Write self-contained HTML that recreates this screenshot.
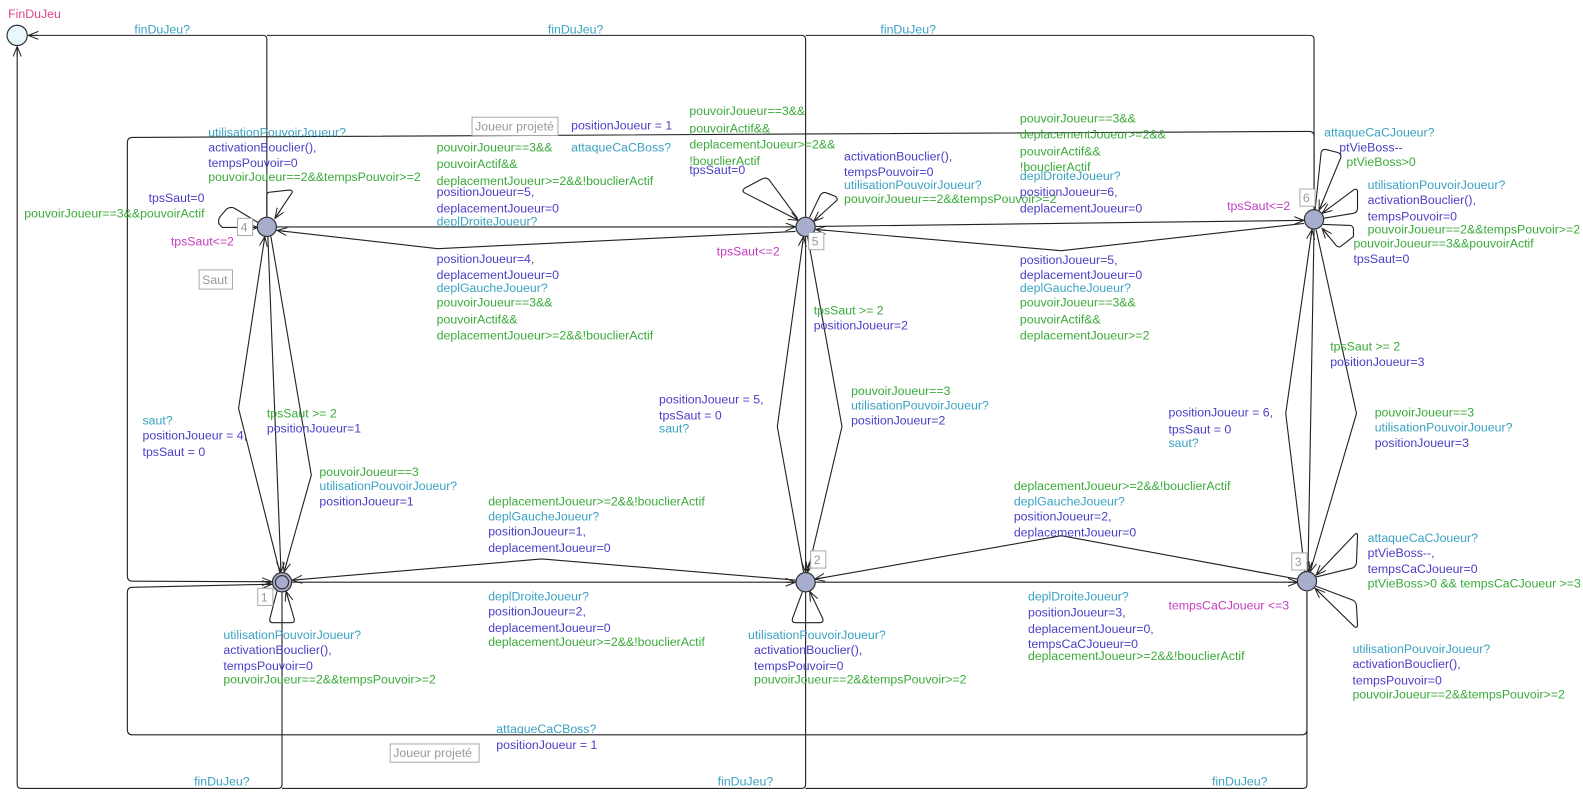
<!DOCTYPE html>
<html><head><meta charset="utf-8"><style>
html,body{margin:0;padding:0;background:#fff;}
svg{display:block;}
text{font-family:"Liberation Sans",sans-serif;font-size:12.2px;}
.g{fill:#3aaa3a}.s{fill:#3aa2c2}.u{fill:#4a3ec6}.i{fill:#c23cc0}.n{fill:#e0468c}.c{fill:#999}
.e{fill:none;stroke:#222;stroke-width:1.1;stroke-linejoin:round}
</style></head><body>
<svg width="1583" height="807" viewBox="0 0 1583 807" xmlns="http://www.w3.org/2000/svg">
<defs><marker id="a" markerWidth="12" markerHeight="10" refX="10" refY="4" orient="auto" markerUnits="userSpaceOnUse"><path d="M0,0 L10,4 L0,8 M0,4 L10,4" fill="none" stroke="#222" stroke-width="1"/></marker></defs>
<g transform="scale(1.0108)">
<path class="e" d="M797,215 L797,39 Q797,35 793,35 L264,35"/>
<path class="e" d="M1300,208 L1300,39 Q1300,35 1296,35 L797,35"/>
<path class="e" d="M264,215 L264,39 Q264,35 260,35 L28,35" marker-end="url(#a)"/>
<path class="e" d="M797,585 L797,776 Q797,780 793,780 L279,780"/>
<path class="e" d="M1293,585 L1293,776 Q1293,780 1289,780 L797,780"/>
<path class="e" d="M279,585 L279,776 Q279,780 275,780 L21,780 Q17,780 17,776 L17,46" marker-end="url(#a)"/>
<path class="e" d="M1300,208 L1300,135 Q1300,130 1295,130 L131,136 Q126,136 126,141 L126,570 Q126,575 131,575 L269,575.5" marker-end="url(#a)"/>
<path class="e" d="M1293,585 L1293,722 Q1293,727 1288,727 L131,727 Q126,727 126,722 L126,586 Q126,581 131,581 L269,578" marker-end="url(#a)"/>
<path class="e" d="M274,224.5 L787,224.5" marker-end="url(#a)"/>
<path class="e" d="M787,229 L433,246 L274,228" marker-end="url(#a)"/>
<path class="e" d="M807,224 L1290,218" marker-end="url(#a)"/>
<path class="e" d="M1290,221 L1050,248 L807,227" marker-end="url(#a)"/>
<path class="e" d="M788,574 L536,553 L289,574" marker-end="url(#a)"/>
<path class="e" d="M289,576 L787,576" marker-end="url(#a)"/>
<path class="e" d="M1284,573 L1050,530 L806,573" marker-end="url(#a)"/>
<path class="e" d="M806,576 L1284,576" marker-end="url(#a)"/>
<path class="e" d="M277,567 L236,404 L262,234" marker-end="url(#a)"/>
<path class="e" d="M265,234 L278,566" marker-end="url(#a)"/>
<path class="e" d="M268,234 L308,470 L281,566" marker-end="url(#a)"/>
<path class="e" d="M795,566 L769,422 L795,234" marker-end="url(#a)"/>
<path class="e" d="M797,234 L797,566" marker-end="url(#a)"/>
<path class="e" d="M799,234 L833,422 L799,566" marker-end="url(#a)"/>
<path class="e" d="M1291,566 L1272,409 L1298,227" marker-end="url(#a)"/>
<path class="e" d="M1300,227 L1294,566" marker-end="url(#a)"/>
<path class="e" d="M1302,227 L1342,409 L1296,566" marker-end="url(#a)"/>
<path class="e" d="M264,215 L264,193 Q264,190 268,190 L286,188 Q291,188 288,192 L272,216" marker-end="url(#a)"/>
<path class="e" d="M255,220 L232,206 Q228,204 224,207 L218,214 Q215,218 217,222 L220,225 L255,225" marker-end="url(#a)"/>
<path class="e" d="M789,216 L761,178 Q758,175 754,177 L737,186 Q733,189 737,191 L790,218" marker-end="url(#a)"/>
<path class="e" d="M801,215 L811,194 Q814,189 818,191 L826,194 Q830,197 827,199 L805,219" marker-end="url(#a)"/>
<path class="e" d="M1301,208 L1307,151 Q1308,147 1312,148 L1324,151 Q1328,153 1326,157 L1305,208" marker-end="url(#a)"/>
<path class="e" d="M1309,216 L1339,211 Q1343,210 1343,206 L1343,190 Q1343,186 1339,188 L1308,211" marker-end="url(#a)"/>
<path class="e" d="M1309,222 L1336,223 Q1339,224 1339,227 L1339,234 L1326,244 Q1324,245 1322,243 L1308,226" marker-end="url(#a)"/>
<path class="e" d="M1301,571 L1338,562 Q1342,560 1342,556 L1343,530 Q1343,526 1340,529 L1302,569" marker-end="url(#a)"/>
<path class="e" d="M1302,580 L1339,594 Q1342,596 1342,600 L1343,618 Q1343,622 1340,620 L1301,582" marker-end="url(#a)"/>
<path class="e" d="M274,585 L267,612 Q266,616 270,616 L288,616 Q292,616 291,612 L283,585" marker-end="url(#a)"/>
<path class="e" d="M794,585 L784,612 Q783,616 787,616 L811,616 Q815,616 814,612 L801,585" marker-end="url(#a)"/>
<circle cx="17" cy="35" r="10" fill="#e8f8fc" stroke="#333" stroke-width="1.2"/>
<g fill="#a7aecd" stroke="#333" stroke-width="1.2">
<circle cx="264" cy="224.5" r="9.5"/><circle cx="797" cy="224.5" r="9.5"/><circle cx="1300" cy="217" r="9.5"/>
<circle cx="279" cy="576" r="9.5"/><circle cx="797" cy="576" r="9.5"/><circle cx="1293" cy="575" r="9.5"/>
<circle cx="279" cy="576" r="6.5"/>
</g>
<g fill="#fff" stroke="#aaa" stroke-width="1">
<rect x="235" y="216" width="15" height="17"/><rect x="800" y="230" width="15" height="17"/><rect x="1286" y="187" width="15" height="17"/>
<rect x="255" y="582" width="15" height="17"/><rect x="802" y="545" width="15" height="17"/><rect x="1278" y="547" width="15" height="17"/>
<rect x="467" y="116" width="85" height="18"/><rect x="197" y="267" width="33" height="19"/><rect x="386" y="736" width="88" height="18"/>
</g>
<g class="c">
<text x="238" y="229">4</text><text x="803" y="243">5</text><text x="1289" y="200">6</text>
<text x="258" y="595">1</text><text x="805" y="558">2</text><text x="1281" y="560">3</text>
<text x="470" y="129">Joueur projeté</text><text x="200" y="281">Saut</text><text x="389" y="749">Joueur projeté</text>
</g>
<text class="n" x="8" y="18">FinDuJeu</text>
<g class="s"><text x="133" y="33">finDuJeu?</text><text x="542" y="33">finDuJeu?</text><text x="871" y="33">finDuJeu?</text>
<text x="192" y="777">finDuJeu?</text><text x="710" y="777">finDuJeu?</text><text x="1199" y="777">finDuJeu?</text></g>
<text class="s" x="206" y="135">utilisationPouvoirJoueur?</text>
<text class="u" x="206" y="150">activationBouclier(),</text>
<text class="u" x="206" y="165">tempsPouvoir=0</text>
<text class="g" x="206" y="179">pouvoirJoueur==2&amp;&amp;tempsPouvoir&gt;=2</text>
<text class="u" x="147" y="200">tpsSaut=0</text>
<text class="g" x="24" y="215">pouvoirJoueur==3&amp;&amp;pouvoirActif</text>
<text class="i" x="169" y="243">tpsSaut&lt;=2</text>
<text class="u" x="565" y="128">positionJoueur = 1</text>
<text class="s" x="565" y="150">attaqueCaCBoss?</text>
<text class="g" x="432" y="150">pouvoirJoueur==3&amp;&amp;</text>
<text class="g" x="432" y="166">pouvoirActif&amp;&amp;</text>
<text class="g" x="432" y="183">deplacementJoueur&gt;=2&amp;&amp;!bouclierActif</text>
<text class="u" x="432" y="194">positionJoueur=5,</text>
<text class="u" x="432" y="210">deplacementJoueur=0</text>
<text class="s" x="432" y="223">deplDroiteJoueur?</text>
<text class="u" x="432" y="260">positionJoueur=4,</text>
<text class="u" x="432" y="276">deplacementJoueur=0</text>
<text class="s" x="432" y="289">deplGaucheJoueur?</text>
<text class="g" x="432" y="303">pouvoirJoueur==3&amp;&amp;</text>
<text class="g" x="432" y="320">pouvoirActif&amp;&amp;</text>
<text class="g" x="432" y="336">deplacementJoueur&gt;=2&amp;&amp;!bouclierActif</text>
<text class="g" x="682" y="114">pouvoirJoueur==3&amp;&amp;</text>
<text class="g" x="682" y="131">pouvoirActif&amp;&amp;</text>
<text class="g" x="682" y="147">deplacementJoueur&gt;=2&amp;&amp;</text>
<text class="g" x="682" y="163">!bouclierActif</text>
<text class="u" x="682" y="172">tpsSaut=0</text>
<text class="u" x="835" y="159">activationBouclier(),</text>
<text class="u" x="835" y="174">tempsPouvoir=0</text>
<text class="s" x="835" y="187">utilisationPouvoirJoueur?</text>
<text class="g" x="835" y="201">pouvoirJoueur==2&amp;&amp;tempsPouvoir&gt;=2</text>
<text class="i" x="709" y="253">tpsSaut&lt;=2</text>
<text class="g" x="1009" y="121">pouvoirJoueur==3&amp;&amp;</text>
<text class="g" x="1009" y="137">deplacementJoueur&gt;=2&amp;&amp;</text>
<text class="g" x="1009" y="154">pouvoirActif&amp;&amp;</text>
<text class="g" x="1009" y="169">!bouclierActif</text>
<text class="s" x="1009" y="178">deplDroiteJoueur?</text>
<text class="u" x="1009" y="194">positionJoueur=6,</text>
<text class="u" x="1009" y="210">deplacementJoueur=0</text>
<text class="i" x="1214" y="208">tpsSaut&lt;=2</text>
<text class="u" x="1009" y="261">positionJoueur=5,</text>
<text class="u" x="1009" y="276">deplacementJoueur=0</text>
<text class="s" x="1009" y="289">deplGaucheJoueur?</text>
<text class="g" x="1009" y="303">pouvoirJoueur==3&amp;&amp;</text>
<text class="g" x="1009" y="320">pouvoirActif&amp;&amp;</text>
<text class="g" x="1009" y="336">deplacementJoueur&gt;=2</text>
<text class="s" x="1310" y="135">attaqueCaCJoueur?</text>
<text class="u" x="1325" y="150">ptVieBoss--</text>
<text class="g" x="1332" y="164">ptVieBoss&gt;0</text>
<text class="s" x="1353" y="187">utilisationPouvoirJoueur?</text>
<text class="u" x="1353" y="202">activationBouclier(),</text>
<text class="u" x="1353" y="218">tempsPouvoir=0</text>
<text class="g" x="1353" y="231">pouvoirJoueur==2&amp;&amp;tempsPouvoir&gt;=2</text>
<text class="g" x="1339" y="245">pouvoirJoueur==3&amp;&amp;pouvoirActif</text>
<text class="u" x="1339" y="260">tpsSaut=0</text>
<text class="s" x="141" y="420">saut?</text>
<text class="u" x="141" y="435">positionJoueur = 4,</text>
<text class="u" x="141" y="451">tpsSaut = 0</text>
<text class="g" x="264" y="413">tpsSaut &gt;= 2</text>
<text class="u" x="264" y="428">positionJoueur=1</text>
<text class="g" x="316" y="471">pouvoirJoueur==3</text>
<text class="s" x="316" y="485">utilisationPouvoirJoueur?</text>
<text class="u" x="316" y="500">positionJoueur=1</text>
<text class="g" x="805" y="311">tpsSaut &gt;= 2</text>
<text class="u" x="805" y="326">positionJoueur=2</text>
<text class="u" x="652" y="399">positionJoueur = 5,</text>
<text class="u" x="652" y="415">tpsSaut = 0</text>
<text class="s" x="652" y="428">saut?</text>
<text class="g" x="842" y="391">pouvoirJoueur==3</text>
<text class="s" x="842" y="405">utilisationPouvoirJoueur?</text>
<text class="u" x="842" y="420">positionJoueur=2</text>
<text class="g" x="1316" y="347">tpsSaut &gt;= 2</text>
<text class="u" x="1316" y="362">positionJoueur=3</text>
<text class="u" x="1156" y="412">positionJoueur = 6,</text>
<text class="u" x="1156" y="429">tpsSaut = 0</text>
<text class="s" x="1156" y="442">saut?</text>
<text class="g" x="1360" y="412">pouvoirJoueur==3</text>
<text class="s" x="1360" y="427">utilisationPouvoirJoueur?</text>
<text class="u" x="1360" y="442">positionJoueur=3</text>
<text class="g" x="483" y="500">deplacementJoueur&gt;=2&amp;&amp;!bouclierActif</text>
<text class="s" x="483" y="515">deplGaucheJoueur?</text>
<text class="u" x="483" y="530">positionJoueur=1,</text>
<text class="u" x="483" y="546">deplacementJoueur=0</text>
<text class="s" x="483" y="594">deplDroiteJoueur?</text>
<text class="u" x="483" y="609">positionJoueur=2,</text>
<text class="u" x="483" y="625">deplacementJoueur=0</text>
<text class="g" x="483" y="639">deplacementJoueur&gt;=2&amp;&amp;!bouclierActif</text>
<text class="g" x="1003" y="485">deplacementJoueur&gt;=2&amp;&amp;!bouclierActif</text>
<text class="s" x="1003" y="500">deplGaucheJoueur?</text>
<text class="u" x="1003" y="515">positionJoueur=2,</text>
<text class="u" x="1003" y="531">deplacementJoueur=0</text>
<text class="s" x="1017" y="594">deplDroiteJoueur?</text>
<text class="u" x="1017" y="610">positionJoueur=3,</text>
<text class="u" x="1017" y="626">deplacementJoueur=0,</text>
<text class="u" x="1017" y="641">tempsCaCJoueur=0</text>
<text class="g" x="1017" y="653">deplacementJoueur&gt;=2&amp;&amp;!bouclierActif</text>
<text class="i" x="1156" y="603">tempsCaCJoueur &lt;=3</text>
<text class="s" x="1353" y="536">attaqueCaCJoueur?</text>
<text class="u" x="1353" y="551">ptVieBoss--,</text>
<text class="u" x="1353" y="567">tempsCaCJoueur=0</text>
<text class="g" x="1353" y="581">ptVieBoss&gt;0 &amp;&amp; tempsCaCJoueur &gt;=3</text>
<text class="s" x="1338" y="646">utilisationPouvoirJoueur?</text>
<text class="u" x="1338" y="661">activationBouclier(),</text>
<text class="u" x="1338" y="677">tempsPouvoir=0</text>
<text class="g" x="1338" y="691">pouvoirJoueur==2&amp;&amp;tempsPouvoir&gt;=2</text>
<text class="s" x="221" y="632">utilisationPouvoirJoueur?</text>
<text class="u" x="221" y="647">activationBouclier(),</text>
<text class="u" x="221" y="663">tempsPouvoir=0</text>
<text class="g" x="221" y="676">pouvoirJoueur==2&amp;&amp;tempsPouvoir&gt;=2</text>
<text class="s" x="740" y="632">utilisationPouvoirJoueur?</text>
<text class="u" x="746" y="647">activationBouclier(),</text>
<text class="u" x="746" y="663">tempsPouvoir=0</text>
<text class="g" x="746" y="676">pouvoirJoueur==2&amp;&amp;tempsPouvoir&gt;=2</text>
<text class="s" x="491" y="725">attaqueCaCBoss?</text>
<text class="u" x="491" y="741">positionJoueur = 1</text>
</g>
</svg>
</body></html>
